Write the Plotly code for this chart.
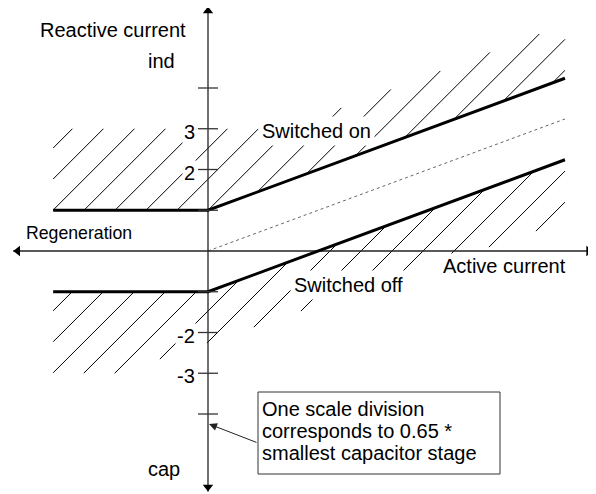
import numpy as np
import plotly.graph_objects as go

# ---------------- data (scale divisions) ----------------
active = [-3.8, 0.0, 8.76]            # active current
switch_on = [1.0, 1.0, 4.24]          # switch-on threshold (reactive current)
switch_off = [-1.0, -1.0, 2.24]       # switch-off threshold (reactive current)
neutral_x = [0.0, 8.76]
neutral_y = [0.0, 3.24]
hatch_top_x = [-3.8, 1.9, 8.76]       # upper limit of the "switched on" hatching
hatch_top_y = [3.0, 3.0, 5.56]
hatch_bot_x = [-3.8, -2.2, 8.76]      # lower limit of the "switched off" hatching
hatch_bot_y = [-3.0, -3.0, 0.73]
tick_values = [4, 3, 2, 1, -1, -2, -3, -4]
tick_labels = ["", "3", "2", "", "", "-2", "-3", ""]
hatch_step = 0.761
upper_phase = -1.0
lower_phase = 2.233

# ---------------- geometry helpers ----------------
W, H = 596, 494
PAGE = 8              # default body margin of the html page
PX = 40.75            # pixels per scale division
OX, OY = 208, 251     # origin in window pixels


def X(px):
    return (px - OX) / PX


def Y(py):
    return (OY - py) / PX


FONT = "Liberation Sans, Arial, sans-serif"


def hatch(phase, lo_x, lo_y, hi_x, hi_y, x_min, x_max):
    xs = np.linspace(x_min, x_max, 40001)
    lo = np.interp(xs, lo_x, lo_y)
    hi = np.interp(xs, hi_x, hi_y)
    hx, hy = [], []
    for k in range(-40, 41):
        d = phase + k * hatch_step
        y = xs - d
        m = (y >= lo) & (y <= hi)
        if m.any():
            xa, xb = xs[m][0], xs[m][-1]
            hx += [xa, xb, None]
            hy += [xa - d, xb - d, None]
    return hx, hy


ux, uy = hatch(upper_phase, active, switch_on, hatch_top_x, hatch_top_y, active[0], active[-1])
lx, ly = hatch(lower_phase, hatch_bot_x, hatch_bot_y, active, switch_off, active[0], active[-1])

fig = go.Figure()
fig.add_trace(go.Scatter(x=ux, y=uy, mode="lines", line=dict(color="black", width=1),
                         hoverinfo="skip", showlegend=False))
fig.add_trace(go.Scatter(x=lx, y=ly, mode="lines", line=dict(color="black", width=1),
                         hoverinfo="skip", showlegend=False))
fig.add_trace(go.Scatter(x=neutral_x, y=neutral_y, mode="lines",
                         line=dict(color="#666", width=1, dash="dot"), showlegend=False))

# axes
x_left, x_right = -4.78, 9.45
y_top, y_bottom = 6.0, -5.9
axis_col = "#222"
fig.add_trace(go.Scatter(x=[x_left, x_right], y=[0, 0], mode="lines",
                         line=dict(color=axis_col, width=1.3), showlegend=False))
fig.add_trace(go.Scatter(x=[0, 0], y=[y_bottom, y_top], mode="lines",
                         line=dict(color=axis_col, width=1.3), showlegend=False))
off = 4.5 / PX
fig.add_trace(go.Scatter(
    x=[0, 0, x_left + off, x_right - off],
    y=[y_top - off, y_bottom + off, 0, 0],
    mode="markers",
    marker=dict(symbol=["triangle-up", "triangle-down", "triangle-left", "triangle-right"],
                size=9, color="black", line=dict(width=0)),
    showlegend=False))

# thresholds
fig.add_trace(go.Scatter(x=active, y=switch_on, mode="lines",
                         line=dict(color="black", width=3), showlegend=False))
fig.add_trace(go.Scatter(x=active, y=switch_off, mode="lines",
                         line=dict(color="black", width=3), showlegend=False))

shapes = []
for v in tick_values:
    shapes.append(dict(type="line", xref="x", yref="y", x0=X(198), x1=X(218), y0=v, y1=v,
                       line=dict(color="#333", width=1.3), layer="above"))
shapes.append(dict(type="rect", xref="x", yref="y", x0=X(258), x1=X(500), y0=Y(474), y1=Y(392),
                   line=dict(color="#333", width=1), fillcolor="white", layer="above"))

ann = []


def txt(t, px, py, size=20, bg=None, pad=1, anchor="left"):
    d = dict(text=t, x=X(px), y=Y(py), xref="x", yref="y", xanchor=anchor, yanchor="middle",
             showarrow=False, font=dict(family=FONT, size=size, color="black"), borderpad=pad)
    if bg:
        d["bgcolor"] = bg
    ann.append(d)


for v, lab in zip(tick_values, tick_labels):
    if lab:
        ann.append(dict(text=lab, x=X(197), y=v, xref="x", yref="y", xanchor="right",
                        yanchor="middle", yshift=-3, showarrow=False, bgcolor="white", borderpad=1,
                        font=dict(family=FONT, size=20, color="black")))

txt("Reactive current", 38, 30)
txt("ind", 146, 61)
txt("Regeneration", 24, 233, size=17.7)
txt("Active current", 441, 266, bg="white")
txt("Switched on", 258, 131, bg="white", pad=3)
txt("Switched off", 290, 285, bg="white", pad=3)
txt("cap", 146, 469)
txt("One scale division", 260, 409)
txt("corresponds to 0.65 *", 260, 431)
txt("smallest capacitor stage", 260, 453)
ann.append(dict(text="", x=X(209), y=Y(424), ax=X(258), ay=Y(443), xref="x", yref="y",
                axref="x", ayref="y", showarrow=True, arrowhead=2, arrowsize=1.6,
                arrowwidth=1, arrowcolor="#222", standoff=0))

fig.update_layout(
    width=W - PAGE, height=H - PAGE, margin=dict(l=0, r=0, t=0, b=0),
    paper_bgcolor="white", plot_bgcolor="white",
    xaxis=dict(range=[X(PAGE), X(W)], visible=False, fixedrange=True),
    yaxis=dict(range=[Y(H), Y(PAGE)], visible=False, fixedrange=True),
    shapes=shapes, annotations=ann, showlegend=False,
)
fig.write_html("out.html")
